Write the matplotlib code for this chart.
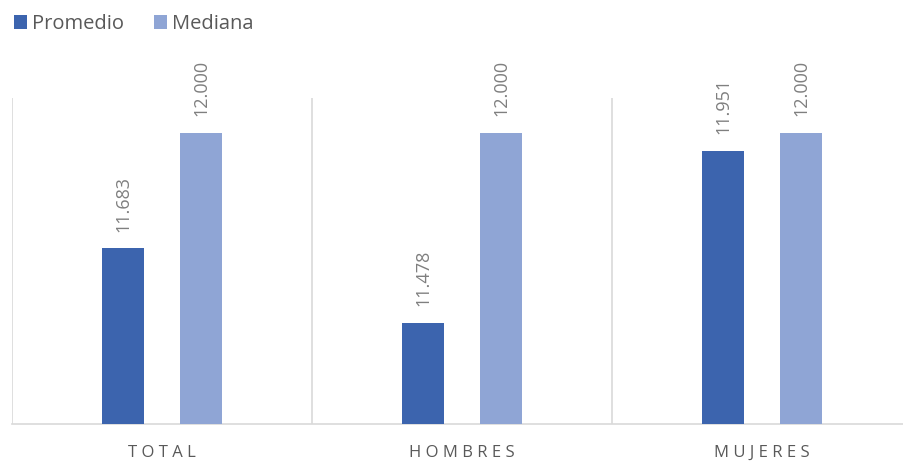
import matplotlib
matplotlib.use("Agg")
import matplotlib.pyplot as plt
import numpy as np

categories = ["TOTAL", "HOMBRES", "MUJERES"]
promedio = [11.683, 11.478, 11.951]
mediana = [12.000, 12.000, 12.000]
series_names = ["Promedio", "Mediana"]
colors = ["#3C64AE", "#8FA5D5"]

plt.rcParams['font.family'] = ['Open Sans', 'DejaVu Sans']

fig = plt.figure(figsize=(9.04, 4.62), dpi=100)
W, H = 904, 462
ax = fig.add_axes([12 / W, 38 / H, 900 / W, 326 / H])

x = np.arange(len(categories))
bw = 0.137
off = 0.13
b1 = ax.bar(x - off, promedio, bw, color=colors[0], label=series_names[0], zorder=3)
b2 = ax.bar(x + off, mediana, bw, color=colors[1], label=series_names[1], zorder=3)

ax.set_xlim(-0.5, 2.5)
ax.set_ylim(11.2, 12.096)

for bars, vals in ((b1, promedio), (b2, mediana)):
    for r, v in zip(bars, vals):
        ax.annotate(f"{v:.3f}", (r.get_x() + r.get_width() / 2, v),
                    xytext=(0, 12), textcoords="offset points",
                    rotation=90, ha="center", va="bottom",
                    fontsize=13, color="#7F7F7F")

# vertical category separators
for xv in [-0.5, 0.5, 1.5]:
    ax.axvline(xv, color="#D9D9D9", lw=1.2, zorder=1)

for s in ["top", "right", "left"]:
    ax.spines[s].set_visible(False)
ax.spines["bottom"].set_color("#D9D9D9")
ax.spines["bottom"].set_linewidth(1.2)
ax.set_yticks([])
ax.set_xticks(x)
ax.set_xticklabels([" ".join(c) for c in categories], fontsize=12, color="#595959")
ax.tick_params(axis="x", length=0, pad=15)

leg = fig.legend(handles=[b1, b2], labels=series_names, loc="upper left",
                 bbox_to_anchor=(14 / W, 1 - 14 / H), frameon=False, ncol=2,
                 fontsize=14.5, handlelength=0.66, handleheight=0.66,
                 handletextpad=0.25, columnspacing=1.45,
                 borderpad=0, borderaxespad=0)
for t in leg.get_texts():
    t.set_color("#595959")

fig.savefig("out.png", dpi=100)
